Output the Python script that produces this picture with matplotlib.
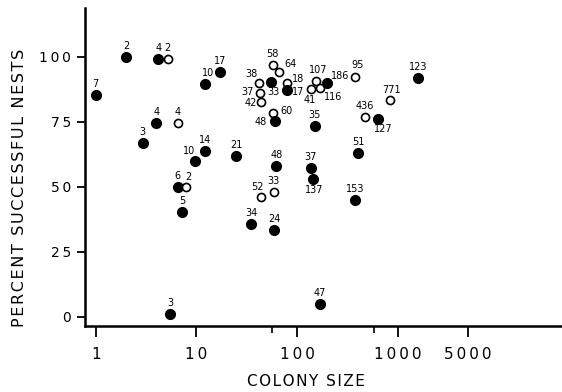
import matplotlib
matplotlib.use("Agg")
import matplotlib.pyplot as plt
from matplotlib.ticker import FixedLocator, NullFormatter

# colony size, percent successful nests, label (n), filled marker?
colony_size = [1.0, 2.0, 4.2, 5.2, 12.1, 17.3, 4.0, 6.5, 2.93, 12.2,
               9.7, 24.9, 62.1, 6.5, 7.95, 7.2, 5.5, 44.1, 58.6, 35.1,
               59.4, 137, 143, 403, 378, 168, 57, 66.5, 42.2, 55.1,
               79.4, 42.8, 79.4, 44.1, 57.6, 59.9, 137, 153, 169, 198,
               378, 150, 469, 640, 837, 1600]
pct_success = [85.2, 99.7, 99.1, 99.0, 89.4, 93.9, 74.5, 74.5, 66.8, 63.8,
               59.8, 61.7, 57.9, 49.7, 49.9, 40.1, 1.0, 46.0, 47.9, 35.5,
               33.4, 57.1, 52.8, 62.8, 44.7, 4.7, 96.9, 94.2, 89.7, 90.3,
               89.9, 86.1, 87.0, 82.6, 78.4, 75.3, 87.4, 90.7, 87.8, 89.7,
               92.1, 73.3, 76.6, 76.1, 83.3, 91.6]
n_labels = ["7", "2", "4", "2", "10", "17", "4", "4", "3", "14",
            "10", "21", "48", "6", "2", "5", "3", "52", "33", "34",
            "24", "37", "137", "51", "153", "47", "58", "64", "38", "33",
            "18", "37", "17", "42", "60", "48", "41", "107", "116", "186",
            "95", "35", "436", "127", "771", "123"]
filled = [1, 1, 1, 0, 1, 1, 1, 0, 1, 1,
          1, 1, 1, 1, 0, 1, 1, 0, 0, 1,
          1, 1, 1, 1, 1, 1, 0, 0, 0, 1,
          0, 0, 1, 0, 0, 1, 0, 0, 0, 1,
          0, 1, 0, 1, 0, 1]

x_ticks = [1, 10, 100, 1000, 5000]
x_ticklabels = ["1", "10", "100", "1000", "5000"]
y_ticks = [0, 25, 50, 75, 100]

# label placement (pixels, x right / y up); default is above the point
label_offset = {
    4: (3, 11), 10: (-6, 10), 14: (2, 10), 17: (-4, 10),
    22: (1, -11), 27: (11, 8), 28: (-8, 9), 29: (2, -10),
    30: (11, 4), 31: (-12, 1), 32: (11, -2), 33: (-11, -1),
    34: (14, 2), 35: (-14, -1), 36: (-1, -11), 37: (3, 11),
    38: (13, -9), 39: (13, 7), 40: (2, 12), 43: (5, -10),
    44: (2, 10),
}


def spaced(s, gap="\u200a"):
    # old lettering is wide, so pad letters out
    return gap.join(s)


W, H = 562, 392
fig = plt.figure(figsize=(W / 100, H / 100), dpi=100)
ax = fig.add_axes([85 / W, (H - 326) / H, (W - 85) / W, (326 - 8) / H])

ax.set_xscale("log")
ax.set_xlim(0.783, 42750)
ax.set_ylim(-3.65, 118.7)

for i in range(len(colony_size)):
    if filled[i]:
        ax.plot(colony_size[i], pct_success[i], "o", ms=7, color="black", zorder=3)
    else:
        ax.plot(colony_size[i], pct_success[i], "o", ms=5.8, mfc="white",
                mec="black", mew=1.2, zorder=3)
    dx, dy = label_offset.get(i, (0, 11))
    ax.annotate(n_labels[i], (colony_size[i], pct_success[i]),
                xytext=(dx, dy), textcoords="offset pixels",
                ha="center", va="center", fontsize=7)

for side in ["top", "right"]:
    ax.spines[side].set_visible(False)
for side in ["left", "bottom"]:
    ax.spines[side].set_linewidth(1.8)

ax.xaxis.set_major_locator(FixedLocator(x_ticks))
ax.set_xticklabels([spaced(t, "\u2009") for t in x_ticklabels], fontsize=11)
ax.xaxis.set_minor_locator(FixedLocator([56, 580]))
ax.xaxis.set_minor_formatter(NullFormatter())
ax.tick_params(axis="x", which="major", length=8, width=1.3, pad=7)
ax.tick_params(axis="x", which="minor", length=5, width=1.2)

ax.set_yticks(y_ticks)
ax.set_yticklabels([spaced(str(v), "\u2009") for v in y_ticks], fontsize=10)
ax.tick_params(axis="y", length=6, width=1.3, pad=4)

ax.set_xlabel(spaced("COLONY SIZE"), fontsize=11)
ax.xaxis.set_label_coords((306 - 85) / 477, (326 - 381) / 318)
ax.xaxis.label.set_va("center")
ax.set_ylabel(spaced("PERCENT SUCCESSFUL NESTS"), fontsize=11.5)
ax.yaxis.set_label_coords((20 - 85) / 477, (326 - 188) / 318)
ax.yaxis.label.set_va("center")

fig.savefig("out.png", dpi=100)
